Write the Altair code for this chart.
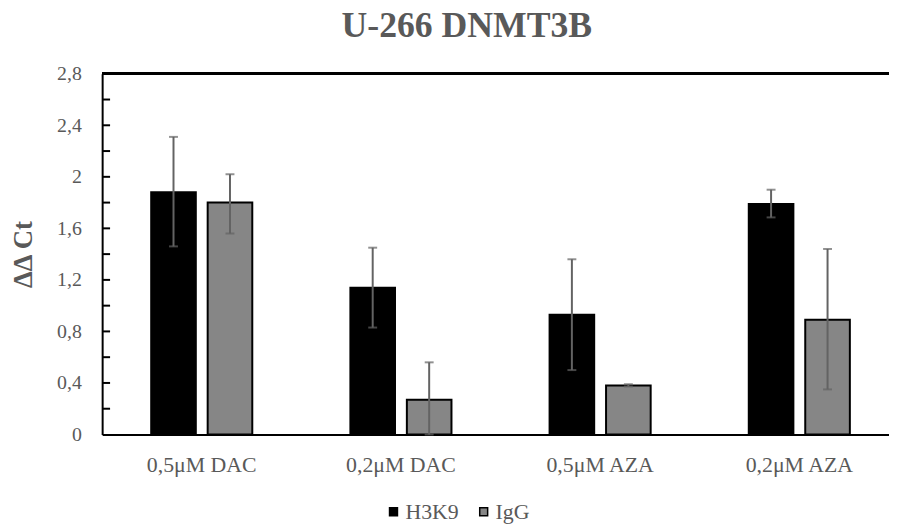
import altair as alt
import pandas as pd

categories = ["0,5μM DAC", "0,2μM DAC", "0,5μM AZA", "0,2μM AZA"]
series = ["H3K9", "IgG"]
h3k9 = [1.88, 1.14, 0.93, 1.79]
h3k9_lo = [1.46, 0.83, 0.50, 1.685]
h3k9_hi = [2.31, 1.45, 1.36, 1.90]
igg = [1.80, 0.27, 0.38, 0.89]
igg_lo = [1.56, 0.0, 0.372, 0.35]
igg_hi = [2.02, 0.56, 0.39, 1.44]
y_label_values = [0, 0.4, 0.8, 1.2, 1.6, 2.0, 2.4, 2.8]
y_minor_ticks = [0.2, 0.4, 0.6, 0.8, 1.0, 1.2, 1.4, 1.6, 1.8, 2.0, 2.2, 2.4, 2.6]

rows = []
for i, c in enumerate(categories):
    rows.append(dict(cat=c, series="H3K9", v=h3k9[i], lo=h3k9_lo[i], hi=h3k9_hi[i]))
    rows.append(dict(cat=c, series="IgG", v=igg[i], lo=igg_lo[i], hi=igg_hi[i]))
df = pd.DataFrame(rows)
ticks_df = pd.DataFrame({"t": y_minor_ticks})

FONT = "Liberation Serif"
GRAY = "#595959"
W = 794
H = 364

xscale = alt.Scale(domain=categories, range=[0, 804], paddingInner=0.4925, paddingOuter=0.24625)
oscale = alt.Scale(domain=series, paddingInner=0.21, paddingOuter=0)
yscale = alt.Scale(domain=[0, 2.8], nice=False, zero=True)
cscale = alt.Scale(domain=series, range=["#000000", "#868686"])

xaxis = alt.Axis(title=None, labelAngle=0, ticks=False, labelPadding=20,
                 domainColor="black", domainWidth=2, labelFont=FONT, labelFontSize=22,
                 labelColor=GRAY, grid=False)
yaxis = alt.Axis(title="ΔΔ Ct", values=y_label_values, ticks=False,
                 labelPadding=21, grid=False, domainColor="black", domainWidth=2,
                 labelFont=FONT, labelFontSize=20, labelColor=GRAY,
                 format=".1~f", labelExpr="replace(datum.label, '.', ',')",
                 titleFont=FONT, titleFontSize=27, titleFontWeight="bold",
                 titleColor=GRAY, titlePadding=19)

base = alt.Chart(df)

X = alt.X("cat:N", scale=xscale, sort=categories, axis=xaxis)
XO = alt.XOffset("series:N", scale=oscale, sort=series)

bars = base.mark_bar(stroke="black", strokeWidth=2).encode(
    x=X,
    xOffset=XO,
    y=alt.Y("v:Q", scale=yscale, axis=yaxis),
    fill=alt.Fill("series:N", scale=cscale,
                  legend=alt.Legend(title=None, orient="none", legendX=283, legendY=431,
                                    direction="horizontal", symbolType="square", symbolSize=64,
                                    symbolStrokeColor="black", symbolStrokeWidth=1.5,
                                    labelFont=FONT, labelFontSize=22, labelColor=GRAY,
                                    columnPadding=14, labelOffset=1)),
)

err = base.mark_rule(color="#636363", strokeWidth=2).encode(
    x=X, xOffset=XO,
    y=alt.Y("lo:Q", scale=yscale, axis=yaxis),
    y2="hi:Q",
)

cap_lo = base.mark_tick(color="#636363", thickness=2, size=9, orient="horizontal").encode(
    x=X, xOffset=XO,
    y=alt.Y("lo:Q", scale=yscale, axis=yaxis),
)
cap_hi = base.mark_tick(color="#636363", thickness=2, size=9, orient="horizontal").encode(
    x=X, xOffset=XO,
    y=alt.Y("hi:Q", scale=yscale, axis=yaxis),
)

yticks = alt.Chart(ticks_df).mark_rule(color="black", strokeWidth=2).encode(
    y=alt.Y("t:Q", scale=yscale, axis=yaxis),
    x=alt.value(0),
    x2=alt.value(8),
)

top_border = alt.Chart(ticks_df).mark_rule(color="black", strokeWidth=2.5).encode(
    y=alt.value(0),
    x=alt.value(0),
    x2=alt.value(W + 20),
)

chart = alt.layer(bars, err, cap_lo, cap_hi, yticks, top_border).properties(
    width=W, height=H,
    background="white",
    autosize=alt.AutoSizeParams(type="none"),
    padding={"left": 95, "top": 64, "right": 0, "bottom": 91},
    title=alt.Title("U-266 DNMT3B", font=FONT, fontSize=36, fontWeight="bold", color=GRAY,
                    anchor="middle", dx=-29, offset=19),
).configure_view(stroke=None)

chart.save("out.html", embed_options={"renderer": "svg", "actions": False})
